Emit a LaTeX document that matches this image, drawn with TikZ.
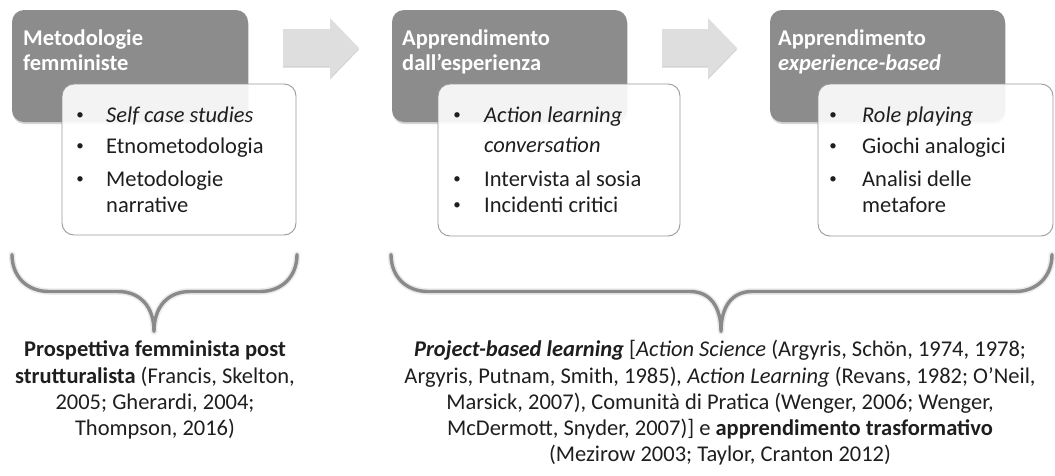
\documentclass[tikz,border=0pt]{standalone}
\usepackage{fontspec}
\setmainfont{Carlito}
\usetikzlibrary{shadows}
\definecolor{darkfill}{HTML}{8C8C8C}
\definecolor{boxline}{HTML}{9A9A9A}
\definecolor{arrowfill}{HTML}{DEDEDE}
\definecolor{bracecol}{HTML}{8A8A8A}
\definecolor{txt}{HTML}{1E1E1E}
\newcommand{\basefont}{\fontsize{22.5}{26.3}\selectfont}
\tikzset{
  darkbox/.style={rounded corners=12pt, fill=darkfill, draw=none, inner sep=0pt,
    drop shadow={shadow xshift=0.5pt, shadow yshift=-2pt, opacity=0.35}},
  whitebox/.style={rounded corners=12pt, fill=white, fill opacity=0.9, draw=boxline, line width=0.9pt, inner sep=0pt},
  titletext/.style={anchor=base west, inner sep=0pt, text=white, font=\basefont\bfseries},
  itemtext/.style={anchor=base west, inner sep=0pt, text=txt},
  bullettext/.style={anchor=base, inner sep=0pt, text=txt, font=\fontsize{15}{15}\selectfont, yshift=3pt},
  captext/.style={anchor=base, inner sep=0pt, text=txt},
  blockarrow/.style={fill=arrowfill, drop shadow={shadow xshift=0pt, shadow yshift=-1.5pt, opacity=0.35}},
  bracestyle/.style={draw=bracecol, line width=3.4pt, line cap=round, line join=round},
  braceshadow/.style={draw=black, opacity=0.08, line width=6.5pt, line cap=round, line join=round}
}
\begin{document}
\begin{tikzpicture}[x=1pt, y=-1pt, font=\basefont]
\useasboundingbox (0,0) rectangle (1055,475);

% dark title boxes
\node[darkbox, minimum width=236pt, minimum height=112pt] (d1) at (130,66) {};
\node[darkbox, minimum width=235pt, minimum height=112pt] (d2) at (509.5,66) {};
\node[darkbox, minimum width=235pt, minimum height=112pt] (d3) at (887.5,66) {};

% titles
\node[titletext] (t1a) at (23,45) {Metodologie};
\node[titletext] (t1b) at (23,70) {femministe};
\node[titletext] (t2a) at (402,45) {Apprendimento};
\node[titletext] (t2b) at (402,70) {dall’esperienza};
\node[titletext] (t3a) at (778,45) {Apprendimento};
\node[titletext] (t3b) at (778,70) {\textit{experience-based}};

% block arrows
\fill[blockarrow] (283,29) -- (330,29) -- (330,18) -- (359,48) -- (330,78) -- (330,66) -- (283,66) -- cycle;
\fill[blockarrow] (662,29) -- (708,29) -- (708,18) -- (737,48) -- (708,78) -- (708,66) -- (662,66) -- cycle;

% white content boxes
\node[whitebox, minimum width=234pt, minimum height=151pt] (w1) at (179,159.5) {};
\node[whitebox, minimum width=242pt, minimum height=152pt] (w2) at (559,160) {};
\node[whitebox, minimum width=235pt, minimum height=152pt] (w3) at (935.5,160) {};

% box 1 items
\node[bullettext] (b1a) at (80,122) {•};
\node[itemtext] (i1a) at (106,122) {\textit{Self case studies}};
\node[bullettext] (b1b) at (80,153) {•};
\node[itemtext] (i1b) at (106,153) {Etnometodologia};
\node[bullettext] (b1c) at (80,186) {•};
\node[itemtext] (i1c) at (106,186) {Metodologie};
\node[itemtext] (i1d) at (106,212) {narrative};

% box 2 items
\node[bullettext] (b2a) at (457,122) {•};
\node[itemtext] (i2a) at (484,122) {\textit{Action learning}};
\node[itemtext] (i2b) at (484,152) {\textit{conversation}};
\node[bullettext] (b2c) at (457,186) {•};
\node[itemtext] (i2c) at (484,186) {Intervista al sosia};
\node[bullettext] (b2d) at (457,212) {•};
\node[itemtext] (i2d) at (484,212) {Incidenti critici};

% box 3 items
\node[bullettext] (b3a) at (833,122) {•};
\node[itemtext] (i3a) at (862,122) {\textit{Role playing}};
\node[bullettext] (b3b) at (833,153) {•};
\node[itemtext] (i3b) at (862,153) {Giochi analogici};
\node[bullettext] (b3c) at (833,186) {•};
\node[itemtext] (i3c) at (862,186) {Analisi delle};
\node[itemtext] (i3d) at (862,212) {metafore};

% braces (shadow, then line)
\foreach \s in {braceshadow, bracestyle} {
  \draw[\s, shift={(0,1.5)}] (12,253) .. controls (12,275) and (27,290) .. (49,290)
    -- (118,290) .. controls (140,290) and (154,305) .. (154,330)
    .. controls (154,305) and (168,290) .. (190,290)
    -- (260,290) .. controls (282,290) and (297,275) .. (297,253);
  \draw[\s, shift={(0,1.5)}] (391,253) .. controls (391,275) and (406,290) .. (428,290)
    -- (690,290) .. controls (710,290) and (721,305) .. (721,330)
    .. controls (721,305) and (732,290) .. (752,290)
    -- (1015,290) .. controls (1037,290) and (1052,275) .. (1052,253);
}

% left caption
\node[captext] (l1) at (155,356) {\textbf{Prospettiva femminista post}};
\node[captext] (l2) at (155,383) {\textbf{strutturalista} (Francis, Skelton,};
\node[captext] (l3) at (155,409) {2005; Gherardi, 2004;};
\node[captext] (l4) at (155,435) {Thompson, 2016)};

% right caption
\node[captext] (r1) at (720,356) {\textbf{\textit{Project-based learning}} [\textit{Action Science} (Argyris, Schön, 1974, 1978;};
\node[captext] (r2) at (720,383) {Argyris, Putnam, Smith, 1985)\textit{,} \textit{Action Learning} (Revans, 1982; O’Neil,};
\node[captext] (r3) at (720,409) {Marsick, 2007), Comunità di Pratica (Wenger, 2006; Wenger,};
\node[captext] (r4) at (720,435) {McDermott, Snyder, 2007)] e \textbf{apprendimento trasformativo}};
\node[captext] (r5) at (720,461) {(Mezirow 2003; Taylor, Cranton 2012)};
\end{tikzpicture}
\end{document}
